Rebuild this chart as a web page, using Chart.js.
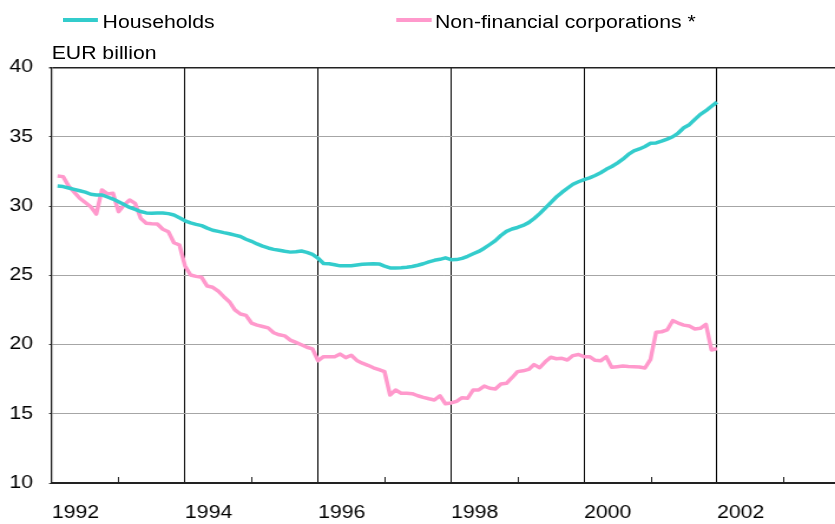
<!DOCTYPE html>
<html>
<head>
<meta charset="utf-8">
<script src="https://cdn.jsdelivr.net/npm/chart.js@4.4.1/dist/chart.umd.min.js"></script>
<style>
  html, body { margin: 0; padding: 0; background: #fff; overflow: hidden; }
  /* the original artwork is stretched sideways, so draw narrow and widen */
  #stage { position: relative; width: 708px; height: 524px; transform: scaleX(1.1794); transform-origin: 0 0;
           font-family: "Liberation Sans", Arial, sans-serif; font-size: 18px; line-height: 18px; color: #000; }
  #chart { position: absolute; left: 0; top: 0; }
  .key { position: absolute; top: 18.3px; height: 3.5px; width: 30.5px; }
  .txt { position: absolute; white-space: nowrap; }
</style>
</head>
<body>
<div id="stage">
  <canvas id="chart" width="708" height="524"></canvas>
  <div class="key" style="left:52.6px;background:#33cccc"></div>
  <div class="txt" style="left:87px;top:12.5px">Households</div>
  <div class="key" style="left:335.8px;background:#ff99cc"></div>
  <div class="txt" style="left:368.8px;top:12.5px">Non-financial corporations *</div>
  <div class="txt" style="left:43.8px;top:44px">EUR billion</div>
</div>
<script>
var S = 835 / 708;

// monthly, Jan 1992 .. Dec 2001, EUR billion
var households = [
  31.44, 31.4, 31.3, 31.2, 31.1, 31.0, 30.85, 30.8, 30.8, 30.65,
  30.5, 30.3, 30.1, 29.9, 29.75, 29.6, 29.5, 29.47, 29.5, 29.5,
  29.45, 29.35, 29.15, 28.93, 28.78, 28.67, 28.58, 28.4, 28.25, 28.17,
  28.08, 28.0, 27.9, 27.8, 27.6, 27.45, 27.26, 27.1, 26.97, 26.87,
  26.8, 26.73, 26.67, 26.7, 26.75, 26.65, 26.5, 26.23, 25.85, 25.83,
  25.76, 25.68, 25.68, 25.69, 25.74, 25.79, 25.82, 25.83, 25.82, 25.66,
  25.53, 25.52, 25.54, 25.58, 25.63, 25.72, 25.83, 25.97, 26.08, 26.15,
  26.26, 26.12, 26.13, 26.22, 26.37, 26.55, 26.72, 26.95, 27.22, 27.5,
  27.87, 28.17, 28.34, 28.45, 28.6, 28.8, 29.1, 29.45, 29.85, 30.25,
  30.65, 30.98, 31.28, 31.57, 31.75, 31.9, 32.03, 32.2, 32.4, 32.65,
  32.85, 33.1, 33.38, 33.72, 33.98, 34.12, 34.3, 34.53, 34.55, 34.68,
  34.83, 35.0, 35.27, 35.65, 35.87, 36.25, 36.62, 36.88, 37.2, 37.5
];
var corporations = [
  32.17, 32.12, 31.44, 31.0, 30.56, 30.25, 29.95, 29.42, 31.16, 30.87,
  30.92, 29.59, 30.07, 30.43, 30.19, 29.11, 28.75, 28.72, 28.7, 28.32,
  28.14, 27.35, 27.18, 25.67, 25.02, 24.92, 24.85, 24.22, 24.13, 23.85,
  23.45, 23.09, 22.5, 22.2, 22.1, 21.55, 21.4, 21.3, 21.2, 20.85,
  20.7, 20.62, 20.32, 20.15, 19.98, 19.8, 19.68, 18.83, 19.12, 19.12,
  19.12, 19.31, 19.05, 19.22, 18.85, 18.65, 18.5, 18.32, 18.18, 18.04,
  16.35, 16.71, 16.48, 16.48, 16.45, 16.3, 16.18, 16.08, 15.99, 16.3,
  15.72, 15.78, 15.9, 16.16, 16.12, 16.72, 16.72, 17.0, 16.84, 16.79,
  17.15, 17.2, 17.6, 18.04, 18.1, 18.2, 18.55, 18.32, 18.75, 19.08,
  18.97, 19.0, 18.88, 19.2, 19.28, 19.12, 19.12, 18.86, 18.82, 19.12,
  18.35, 18.4, 18.45, 18.42, 18.4, 18.38, 18.3, 18.93, 20.88, 20.92,
  21.05, 21.72, 21.55, 21.4, 21.33, 21.12, 21.17, 21.46, 19.6, 19.7
];
var yearLabels = [1992, 1994, 1996, 1998, 2000, 2002];
var yTicks = [10, 15, 20, 25, 30, 35, 40];

// month-end positions in decimal years
var months = [];
for (var i = 0; i < households.length; i++) months.push(1992 + (i + 1) / 12);

function toPoints(vals) {
  return vals.map(function (v, i) { return { x: months[i], y: v }; });
}

Chart.defaults.font.family = '"Liberation Sans", Arial, sans-serif';
Chart.defaults.font.size = 18;
Chart.defaults.color = '#000';

// small year ticks inside the plot for the odd years
var minorTicks = {
  id: 'minorTicks',
  afterDatasetsDraw: function (chart) {
    var xs = chart.scales.x, ctx = chart.ctx, bottom = chart.chartArea.bottom;
    ctx.save();
    ctx.strokeStyle = '#222';
    ctx.lineWidth = 1;
    for (var yr = 1993; yr <= 2003; yr += 2) {
      var px = Math.round(xs.getPixelForValue(yr)) + 0.5;
      ctx.beginPath();
      ctx.moveTo(px, bottom);
      ctx.lineTo(px, bottom - 6);
      ctx.stroke();
    }
    ctx.restore();
  }
};

new Chart(document.getElementById('chart'), {
  type: 'line',
  data: {
    datasets: [{
      label: 'Households',
      data: toPoints(households),
      borderColor: '#33cccc',
      borderWidth: 3.5,
      borderJoinStyle: 'round',
      pointRadius: 0,
      tension: 0
    }, {
      label: 'Non-financial corporations *',
      data: toPoints(corporations),
      borderColor: '#ff99cc',
      borderWidth: 3.5,
      borderJoinStyle: 'round',
      pointRadius: 0,
      tension: 0
    }]
  },
  options: {
    responsive: false,
    animation: false,
    layout: { padding: { top: 67.5, left: 0, right: 0, bottom: 0 } },
    plugins: { legend: { display: false }, tooltip: { enabled: false } },
    scales: {
      x: {
        type: 'linear',
        min: 1992,
        max: 1992 + 783 / 66.5,
        afterFit: function (s) { s.height = 41; },
        border: { color: '#222', width: 2 },
        grid: {
          drawTicks: false,
          lineWidth: 1,
          color: function (c) {
            var v = c.tick ? c.tick.value : 0;
            return (v % 2 === 0 && v > 1992) ? '#000' : 'rgba(0,0,0,0)';
          }
        },
        ticks: {
          stepSize: 1,
          includeBounds: false,
          autoSkip: false,
          maxRotation: 0,
          align: 'start',
          padding: 19,
          callback: function (v) { return yearLabels.indexOf(v) >= 0 ? String(v) : ''; }
        }
      },
      y: {
        min: 10,
        max: 40,
        afterFit: function (s) { s.width = 52 / S; },
        border: { color: '#222', width: 1.3 },
        grid: {
          tickLength: 2.5,
          tickColor: '#333',
          color: function (c) {
            var v = c.tick ? c.tick.value : 0;
            if (v === 40) return '#222';
            if (v === 10) return 'rgba(0,0,0,0)';
            return '#a6a6a6';
          },
          lineWidth: function (c) { return c.tick && c.tick.value === 40 ? 1.5 : 1; }
        },
        ticks: {
          stepSize: 5,
          padding: 13.6,
          callback: function (v) { return yTicks.indexOf(v) >= 0 ? String(v) : ''; }
        }
      }
    }
  },
  plugins: [minorTicks]
});
</script>
</body>
</html>
